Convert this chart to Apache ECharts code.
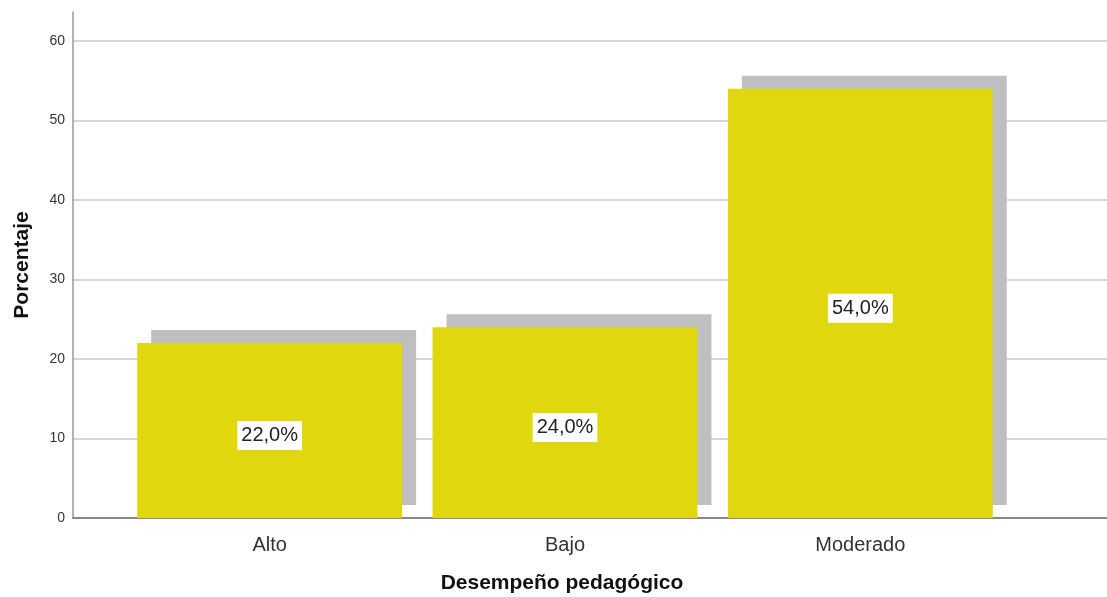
<!DOCTYPE html>
<html>
<head>
<meta charset="utf-8">
<script src="https://cdn.jsdelivr.net/npm/echarts@6/dist/echarts.min.js"></script>
<style>
  html, body { margin: 0; padding: 0; background: #fff; }
  #main { width: 1107px; height: 597px; }
</style>
</head>
<body>
<div id="main"></div>
<script>
// datos
const categorias = ['Alto', 'Bajo', 'Moderado']
const porcentajes = [22.0, 24.0, 54.0]
const ticksY = [0, 10, 20, 30, 40, 50, 60]

const FONT = '"Liberation Sans", Arial, sans-serif'
const chart = echarts.init(document.getElementById('main'))

const yMax = 63.65

const option = {
  animation: false,
  backgroundColor: '#fff',
  textStyle: { fontFamily: FONT },
  grid: [
    { left: 73, right: 0, top: 12, bottom: 79, outerBoundsMode: 'none' },
    { left: 122, right: 99, top: 12, bottom: 79, outerBoundsMode: 'none' }
  ],
  xAxis: [
    {
      gridIndex: 0,
      type: 'value',
      min: 0, max: 1,
      axisLine: { show: true, onZero: false, lineStyle: { color: '#6e6e6e', width: 1.5 } },
      axisTick: { show: false },
      axisLabel: { show: false },
      splitLine: { show: false },
      name: 'Desempeño pedagógico',
      nameLocation: 'middle',
      nameGap: 55,
      nameTextStyle: { fontFamily: FONT, fontSize: 21, fontWeight: 'bold', color: '#111', padding: [0, 56, 0, 0] }
    },
    {
      gridIndex: 1,
      type: 'category',
      data: categorias,
      axisLine: { show: false },
      axisTick: { show: false },
      axisLabel: { fontFamily: FONT, fontSize: 20, color: '#333', margin: 17 },
      splitLine: { show: false }
    }
  ],
  yAxis: [
    {
      gridIndex: 0,
      type: 'value',
      min: 0, max: yMax,
      interval: 10,
      axisLine: { show: true, lineStyle: { color: '#9a9a9a', width: 1.5 } },
      axisTick: { show: false },
      axisLabel: {
        fontFamily: FONT, fontSize: 14, color: '#333', margin: 8,
        formatter: v => ticksY.includes(v) ? String(v) : ''
      },
      splitLine: { show: true, showMaxLine: false, lineStyle: { color: '#c8c8c8', width: 1.5 } },
      name: 'Porcentaje',
      nameLocation: 'middle',
      nameGap: 40,
      nameTextStyle: { fontFamily: FONT, fontSize: 21, fontWeight: 'bold', color: '#111' }
    },
    {
      gridIndex: 1,
      type: 'value',
      min: 0, max: yMax,
      show: false
    }
  ],
  series: [
    {
      type: 'custom',
      xAxisIndex: 1,
      yAxisIndex: 1,
      clip: false,
      data: porcentajes.map((v, i) => [i, v]),
      renderItem: (params, api) => {
        const idx = api.value(0)
        const val = api.value(1)
        const top = api.coord([idx, val])
        const base = api.coord([idx, 0])
        const bw = api.size([1, 0])[0] * 0.897
        const h = base[1] - top[1]
        const x0 = top[0] - bw / 2
        return {
          type: 'group',
          children: [
            {
              type: 'rect',
              shape: { x: x0 + 14, y: top[1] - 13, width: bw, height: h },
              style: { fill: '#bfbfc1' }
            },
            {
              type: 'rect',
              shape: { x: x0, y: top[1], width: bw, height: h },
              style: { fill: '#e1d70f' }
            },
            {
              type: 'text',
              x: top[0],
              y: top[1] + h / 2 + 5,
              style: {
                text: val.toFixed(1).replace('.', ',') + '%',
                fontFamily: FONT,
                fontSize: 20,
                fill: '#222',
                align: 'center',
                verticalAlign: 'middle',
                backgroundColor: '#fff',
                padding: [5, 4, 4, 4]
              }
            }
          ]
        }
      }
    }
  ]
}

chart.setOption(option)
</script>
</body>
</html>
